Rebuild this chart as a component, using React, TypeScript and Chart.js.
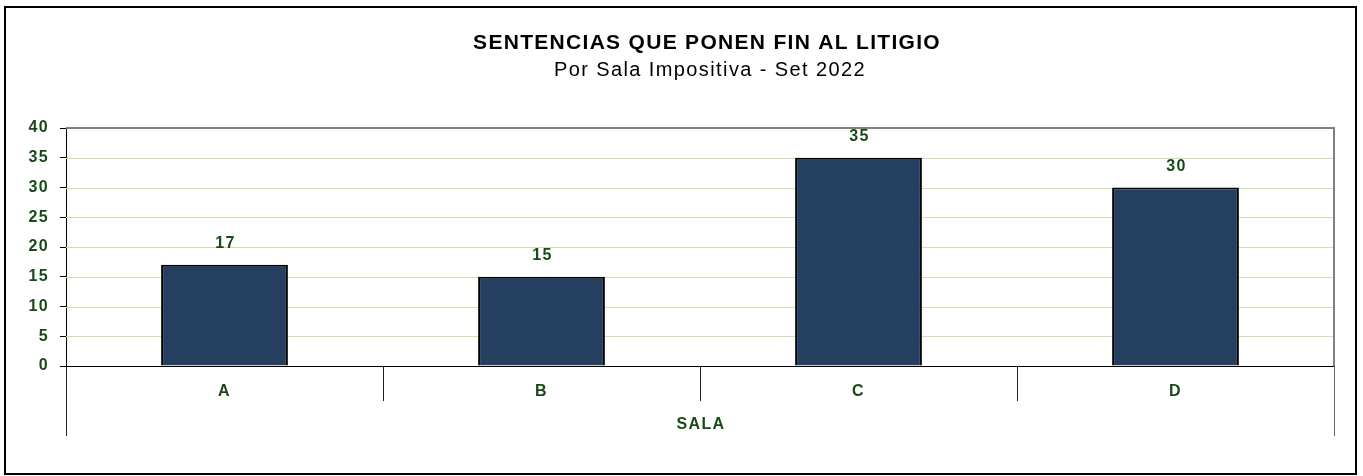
import React, { useEffect, useRef } from "react";
import { Chart, registerables } from "chart.js";

Chart.register(...registerables);

const categories = ["A", "B", "C", "D"];
const values = [17, 15, 35, 30];
const yTicks = [0, 5, 10, 15, 20, 25, 30, 35, 40];
const titleText = "SENTENCIAS QUE PONEN FIN AL LITIGIO";
const subtitleText = "Por Sala Impositiva - Set 2022";
const axisTitle = "SALA";

const FONT = "Arial, 'Liberation Sans', sans-serif";
const GREEN = "#184a18";
const GRID = "#cfe0b0";

const decorPlugin = {
  id: "decor",
  beforeDraw(chart: any) {
    const ctx = chart.ctx;
    ctx.save();
    ctx.fillStyle = "#ffffff";
    ctx.fillRect(0, 0, chart.width, chart.height);
    ctx.restore();
    ctx.letterSpacing = "1.4px";
  },
  beforeDatasetsDraw(chart: any) {
    const ctx = chart.ctx;
    const area = chart.chartArea;
    const ys = chart.scales.y;
    ctx.save();
    ctx.strokeStyle = GRID;
    ctx.lineWidth = 1;
    yTicks.forEach((v) => {
      if (v === 0 || v === 40) return;
      const y = Math.round(ys.getPixelForValue(v)) + 0.5;
      ctx.beginPath();
      ctx.moveTo(area.left, y);
      ctx.lineTo(area.right, y);
      ctx.stroke();
    });
    ctx.restore();
  },
  afterDraw(chart: any) {
    const ctx = chart.ctx;
    const area = chart.chartArea;
    ctx.save();
    // outer border
    ctx.strokeStyle = "#000";
    ctx.lineWidth = 2;
    ctx.strokeRect(5, 7, 1351, 467);
    // titles
    ctx.fillStyle = "#000";
    ctx.textAlign = "center";
    ctx.textBaseline = "middle";
    ctx.letterSpacing = "1.3px";
    ctx.font = `bold 21px ${FONT}`;
    ctx.fillText(titleText, 707, 43);
    ctx.letterSpacing = "1.4px";
    ctx.font = `20px ${FONT}`;
    ctx.fillText(subtitleText, 710, 70);
    // plot top & right border
    ctx.strokeStyle = "#808080";
    ctx.lineWidth = 2;
    ctx.beginPath();
    ctx.moveTo(area.left, area.top);
    ctx.lineTo(area.right, area.top);
    ctx.lineTo(area.right, area.bottom);
    ctx.stroke();
    // category separators below axis
    const n = categories.length;
    const step = (area.right - area.left) / n;
    ctx.lineWidth = 1;
    for (let i = 0; i <= n; i++) {
      const x = Math.round(area.left + i * step) + 0.5;
      ctx.strokeStyle = i === n ? "#666" : "#222";
      ctx.beginPath();
      ctx.moveTo(x, area.bottom);
      ctx.lineTo(x, area.bottom + (i === 0 || i === n ? 70 : 35));
      ctx.stroke();
    }
    // axis title
    ctx.fillStyle = GREEN;
    ctx.font = `bold 16px ${FONT}`;
    ctx.fillText(axisTitle, (area.left + area.right) / 2 + 1, 425);
    // value labels
    const meta = chart.getDatasetMeta(0);
    meta.data.forEach((bar: any, i: number) => {
      ctx.fillText(String(values[i]), bar.x + 1, bar.y - 21);
    });
    // zero line
    ctx.strokeStyle = "#000";
    ctx.lineWidth = 1;
    ctx.beginPath();
    ctx.moveTo(area.left - 6, Math.round(area.bottom) + 0.5);
    ctx.lineTo(area.right, Math.round(area.bottom) + 0.5);
    ctx.stroke();
    ctx.restore();
  },
};

export default function App() {
  const ref = useRef<HTMLCanvasElement | null>(null);
  useEffect(() => {
    document.body.style.margin = "0";
    const chart = new Chart(ref.current as HTMLCanvasElement, {
      type: "bar",
      data: {
        labels: categories,
        datasets: [
          {
            data: values,
            backgroundColor: "#253f60",
            borderColor: "#000",
            borderWidth: 2,
            barPercentage: 0.4,
            categoryPercentage: 1,
          },
        ],
      },
      options: {
        animation: false,
        responsive: false,
        maintainAspectRatio: false,
        layout: { padding: { top: 128, right: 29, bottom: 0, left: 0 } },
        plugins: { legend: { display: false }, title: { display: false }, tooltip: { enabled: false } },
        scales: {
          x: {
            afterFit: (s: any) => {
              s.height = 110;
            },
            grid: { display: false, drawTicks: false },
            border: { display: true, color: "#000", width: 1 },
            ticks: {
              padding: 16,
              color: GREEN,
              font: { family: FONT, size: 16, weight: "bold" },
            },
          },
          y: {
            min: 0,
            max: 40,
            afterFit: (s: any) => {
              s.width = 66;
            },
            afterBuildTicks: (s: any) => {
              s.ticks = yTicks.map((v) => ({ value: v }));
            },
            border: { display: true, color: "#000", width: 1 },
            grid: {
              drawOnChartArea: false,
              tickColor: "#000",
              tickLength: 6,
            },
            ticks: {
              padding: 11,
              color: GREEN,
              font: { family: FONT, size: 16, weight: "bold" },
            },
          },
        },
      },
      plugins: [decorPlugin],
    });
    return () => chart.destroy();
  }, []);
  return (
    <div style={{ position: "fixed", left: 0, top: 0, width: 1363, height: 476 }}>
      <canvas ref={ref} width={1363} height={476} style={{ width: 1363, height: 476 }} />
    </div>
  );
}
